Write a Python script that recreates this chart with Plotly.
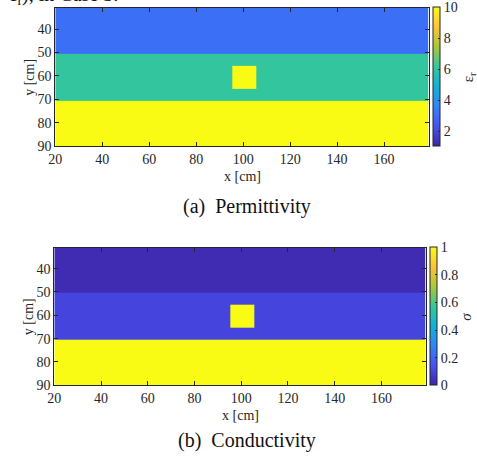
import plotly.graph_objects as go

W, H = 477, 467

# ---- data ----
x_edges = [20, 95.5, 105.5, 179]          # cm
y_edges = [31, 50.5, 55.5, 65.5, 70.5, 90]  # cm
eps_layers = [3, 6, 10]      # top, middle, bottom layer
eps_target = 10
sig_layers = [0.02, 0.1, 1.0]
sig_target = 1.0

def build(layers, target):
    top, mid, bot = layers
    return [
        [top, top, top],
        [mid, mid, mid],
        [mid, target, mid],
        [mid, mid, mid],
        [bot, bot, bot],
    ]

z_eps = build(eps_layers, eps_target)
z_sig = build(sig_layers, sig_target)

x_ticks = [20, 40, 60, 80, 100, 120, 140, 160]
y_ticks = [40, 50, 60, 70, 80, 90]
eps_ticks = [2, 4, 6, 8, 10]
sig_ticks = [0, 0.2, 0.4, 0.6, 0.8, 1]

parula = [
    [0.0, "rgb(62,38,168)"],
    [1/7, "rgb(72,82,244)"],
    [2/7, "rgb(46,135,247)"],
    [3/7, "rgb(18,177,214)"],
    [4/7, "rgb(55,200,151)"],
    [5/7, "rgb(171,199,57)"],
    [6/7, "rgb(254,195,56)"],
    [1.0, "rgb(249,251,21)"],
]

FONT = "'Liberation Serif', 'Times New Roman', Times, serif"
AX = "#262626"

def px(x):
    return x / W

def py(y):
    return 1 - y / H

fig = go.Figure()

panels = [
    dict(z=z_eps, zmin=1, zmax=10, ticks=eps_ticks, xd=(49, 428), yd=(8, 149),
         cbx=432, suffix="", cbt="ε<sub>r</sub>", cap="(a)  Permittivity",
         xlab_y=180, cap_y=210),
    dict(z=z_sig, zmin=0, zmax=1, ticks=sig_ticks, xd=(48, 425), yd=(252, 392),
         cbx=429, suffix="2", cbt="<i>σ</i>", cap="(b)  Conductivity",
         xlab_y=423, cap_y=448),
]

layout = dict(
    width=W, height=H, margin=dict(l=0, r=0, t=0, b=0),
    paper_bgcolor="white", plot_bgcolor="white",
    font=dict(family=FONT, size=14, color=AX),
    showlegend=False,
)

annotations = []
for i, p in enumerate(panels):
    s = p["suffix"]
    fig.add_trace(go.Heatmap(
        x=x_edges, y=y_edges, z=p["z"], zmin=p["zmin"], zmax=p["zmax"],
        colorscale=parula, zsmooth=False, hoverinfo="skip",
        xaxis="x" + s, yaxis="y" + s,
        colorbar=dict(
            x=px(p["cbx"]), xanchor="left", xref="paper",
            y=py(p["yd"][1]), yanchor="bottom", yref="paper",
            len=(p["yd"][1] - p["yd"][0]) / H, lenmode="fraction",
            thickness=7, thicknessmode="pixels",
            outlinecolor=AX, outlinewidth=1,
            tickvals=p["ticks"], ticks="inside", ticklen=2, tickcolor=AX,
            tickfont=dict(family=FONT, size=14, color=AX),
            xpad=0, ypad=0,
        ),
    ))
    xa = dict(
        domain=[px(p["xd"][0]), px(p["xd"][1])], range=[20, 179],
        tickvals=x_ticks, ticks="inside", ticklen=4, tickcolor=AX,
        showline=True, linecolor=AX, linewidth=1, mirror="ticks",
        showgrid=False, zeroline=False,
        tickfont=dict(family=FONT, size=14, color=AX),
        anchor="y" + s,
    )
    ya = dict(
        domain=[py(p["yd"][1]), py(p["yd"][0])], range=[90, 31],
        tickvals=y_ticks, ticks="inside", ticklen=4, tickcolor=AX,
        showline=True, linecolor=AX, linewidth=1, mirror="ticks",
        showgrid=False, zeroline=False,
        tickfont=dict(family=FONT, size=14, color=AX),
        anchor="x" + s,
    )
    layout["xaxis" + s] = xa
    layout["yaxis" + s] = ya
    xc = (p["xd"][0] + p["xd"][1]) / 2
    yc = (p["yd"][0] + p["yd"][1]) / 2
    annotations.append(dict(
        text="x [cm]", x=px(xc), y=py(p["xlab_y"]), xref="paper", yref="paper",
        showarrow=False, font=dict(family=FONT, size=14, color=AX),
        xanchor="center", yanchor="middle",
    ))
    annotations.append(dict(
        text="y [cm]", x=px(22), y=py(yc), xref="paper", yref="paper",
        showarrow=False, textangle=-90, font=dict(family=FONT, size=14, color=AX),
        xanchor="center", yanchor="middle",
    ))
    annotations.append(dict(
        text=p["cbt"], x=px(p["cbx"] + 37), y=py(yc),
        xref="paper", yref="paper", showarrow=False, textangle=-90,
        font=dict(family=FONT, size=15, color=AX), xanchor="center", yanchor="middle",
    ))
    annotations.append(dict(
        text=p["cap"], x=px(244), y=py(p["cap_y"]), xref="paper", yref="paper",
        showarrow=False, font=dict(family=FONT, size=20, color="#111111"),
        xanchor="center", yanchor="middle",
    ))

annotations.append(dict(
    text="ε<sub>r</sub>), in Case 3.", x=0, y=py(-4.5), xref="paper", yref="paper",
    showarrow=False, font=dict(family=FONT, size=20, color="#111111"),
    xanchor="left", yanchor="middle",
))

layout["annotations"] = annotations
fig.update_layout(**layout)
fig.write_html("out.html")
